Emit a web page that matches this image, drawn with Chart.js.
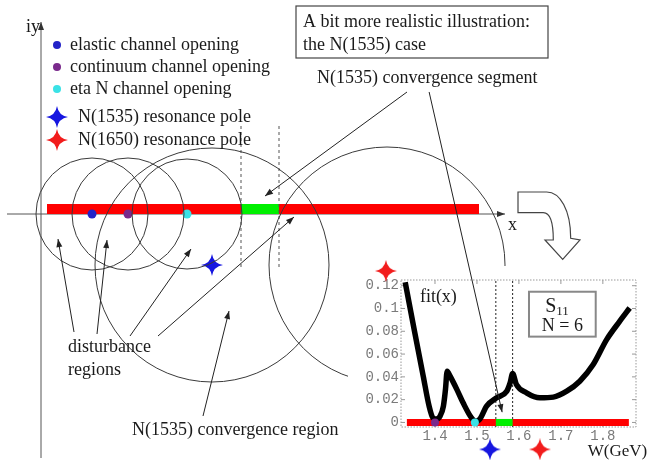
<!DOCTYPE html>
<html>
<head>
<meta charset="utf-8">
<script src="https://cdn.jsdelivr.net/npm/chart.js@4.4.1/dist/chart.umd.min.js"></script>
<style>
  body { margin: 0; background: #fff; }
  #wrap { position: relative; width: 650px; height: 464px; }
  canvas { position: absolute; left: 0; top: 0; }
</style>
</head>
<body>
<div id="wrap">
  <canvas id="plane" width="650" height="464"></canvas>
  <canvas id="inset" width="650" height="464"></canvas>
</div>
<script>
// complex plane sketch, units: 1 = 100px, origin where the axes cross
const openingNames = ['elastic channel opening', 'continuum channel opening', 'eta N channel opening'];
const openingX = [0.51, 0.87, 1.46];
const openingColors = ['#2323c8', '#7a2a8c', '#3ae2e6'];
const disturbanceRadius = [0.56, 0.56, 0.55];
const poleNames = ['N(1535) resonance pole', 'N(1650) resonance pole'];
const poleColors = ['#1616e0', '#f21c1c'];
const pole1535 = [1.71, -0.51];
const regionCircles = [[1.71, -0.51, 1.17], [3.46, -0.51, 1.18]]; // cx, cy, r
const cutRange = [0.06, 4.38];
const segmentRange = [2.00, 2.38];

// inset: fit(x) of S11, N = 6
const fitW = [1.329, 1.352, 1.372, 1.386, 1.395, 1.403, 1.412, 1.420, 1.425, 1.429, 1.436, 1.452, 1.467, 1.487, 1.497, 1.507,
              1.523, 1.547, 1.571, 1.579, 1.585, 1.594, 1.618, 1.650, 1.682, 1.714, 1.745, 1.777, 1.809, 1.840, 1.864];
const fitVal = [0.123, 0.0785, 0.0406, 0.0143, 0.004, 0.003, 0.0055, 0.0143, 0.029, 0.045, 0.0406, 0.029, 0.0172, 0.004, 0.001, 0.003,
                0.0143, 0.0216, 0.0274, 0.0347, 0.0429, 0.0333, 0.026, 0.0216, 0.0222, 0.0274, 0.0362, 0.0508, 0.0727, 0.0887, 0.1004];
const insetOpenW = [1.40, 1.495];
const insetOpenColors = ['#7a2a8c', '#3ae2e6'];
const insetCut = [1.333, 1.862];
const insetSegment = [1.545, 1.585];
const insetPoleW = [1.531, 1.65];
const insetXTicks = [1.4, 1.5, 1.6, 1.7, 1.8];
const insetYTicks = [0, 0.02, 0.04, 0.06, 0.08, 0.1, 0.12];
const insetYLabels = ['0', '0.02', '0.04', '0.06', '0.08', '0.1', '0.12'];

const SERIF = '"Liberation Serif", "Times New Roman", serif';
const INK = '#1a1a1a';

function starImage(color) {
  const c = document.createElement('canvas');
  c.width = 22; c.height = 22;
  const g = c.getContext('2d');
  const m = 11, k = 1.5;
  g.fillStyle = color;
  g.beginPath();
  g.moveTo(m, 0);
  g.quadraticCurveTo(m + k, m - k, 22, m);
  g.quadraticCurveTo(m + k, m + k, m, 22);
  g.quadraticCurveTo(m - k, m + k, 0, m);
  g.quadraticCurveTo(m - k, m - k, m, 0);
  g.fill();
  return c;
}
const blueStar = starImage(poleColors[0]);
const redStar = starImage(poleColors[1]);

function arrow(ctx, x1, y1, x2, y2) {
  const a = Math.atan2(y2 - y1, x2 - x1);
  ctx.beginPath();
  ctx.moveTo(x1, y1);
  ctx.lineTo(x2, y2);
  ctx.stroke();
  ctx.beginPath();
  ctx.moveTo(x2, y2);
  ctx.lineTo(x2 - 8 * Math.cos(a) + 3 * Math.sin(a), y2 - 8 * Math.sin(a) - 3 * Math.cos(a));
  ctx.lineTo(x2 - 8 * Math.cos(a) - 3 * Math.sin(a), y2 - 8 * Math.sin(a) + 3 * Math.cos(a));
  ctx.closePath();
  ctx.fill();
}

const S = (x, y) => ({x, y});

const planeDecor = {
  id: 'planeDecor',
  beforeDatasetsDraw(chart) {
    const {ctx, scales: {x, y}} = chart;
    const px = v => x.getPixelForValue(v), py = v => y.getPixelForValue(v);
    ctx.save();
    ctx.strokeStyle = '#555';
    ctx.fillStyle = '#333';
    ctx.lineWidth = 1;
    arrow(ctx, px(-0.34), py(0), px(4.64), py(0));
    arrow(ctx, px(0), py(-2.44), px(0), py(1.92));
    ctx.restore();
  },
  afterDatasetsDraw(chart) {
    const {ctx, scales: {x, y}} = chart;
    const px = v => x.getPixelForValue(v), py = v => y.getPixelForValue(v);
    const unit = px(1) - px(0);
    ctx.save();
    // circles
    ctx.strokeStyle = '#3a3a3a';
    ctx.lineWidth = 1;
    openingX.forEach((ox, i) => {
      ctx.beginPath();
      ctx.arc(px(ox), py(0), disturbanceRadius[i] * unit, 0, Math.PI * 2);
      ctx.stroke();
    });
    regionCircles.forEach(([cx, cy, r]) => {
      ctx.beginPath();
      ctx.arc(px(cx), py(cy), r * unit, 0, Math.PI * 2);
      ctx.stroke();
    });

    // pointer arrows
    ctx.strokeStyle = '#222';
    ctx.fillStyle = '#222';
    [[0.33, -1.18, 0.17, -0.25], [0.56, -1.20, 0.66, -0.26], [0.89, -1.22, 1.50, -0.35],
     [1.17, -1.22, 2.53, -0.03], [1.62, -2.02, 1.88, -0.97], [3.66, 1.22, 2.24, 0.18]]
      .forEach(([a, b, c, d]) => arrow(ctx, px(a), py(b), px(c), py(d)));

    // block arrow pointing to the inset
    const ax = px(4.77), ay = py(0.22);
    ctx.beginPath();
    ctx.moveTo(ax, ay);
    ctx.lineTo(ax + 28.7, ay);
    ctx.bezierCurveTo(ax + 42, ay, ax + 52.7, ay + 18, ax + 52.7, ay + 46.3);
    ctx.lineTo(ax + 62, ay + 48);
    ctx.lineTo(ax + 44.7, ay + 67.3);
    ctx.lineTo(ax + 27, ay + 48);
    ctx.lineTo(ax + 35.3, ay + 48);
    ctx.bezierCurveTo(ax + 35.3, ay + 30, ax + 32, ay + 20.7, ax + 25.3, ay + 20.7);
    ctx.lineTo(ax, ay + 20.7);
    ctx.closePath();
    ctx.fillStyle = '#fff';
    ctx.fill();
    ctx.strokeStyle = '#444';
    ctx.lineWidth = 1.2;
    ctx.stroke();

    // texts
    ctx.fillStyle = INK;
    ctx.font = '18px ' + SERIF;
    ctx.textBaseline = 'middle';
    ctx.textAlign = 'left';
    [['iy', -0.15, 1.87], ['x', 4.67, -0.11], ['N(1535) convergence segment', 2.76, 1.36],
     ['disturbance', 0.27, -1.33], ['regions', 0.27, -1.56], ['N(1535) convergence region', 0.91, -2.16],
     ['A bit more realistic illustration:', 2.62, 1.92], ['the N(1535) case', 2.62, 1.69]]
      .forEach(([t, a, b]) => ctx.fillText(t, px(a), py(b)));
    ctx.strokeStyle = '#444';
    ctx.lineWidth = 1.2;
    ctx.strokeRect(px(2.55), py(2.08), px(5.07) - px(2.55), py(1.56) - py(2.08));

    // legend
    const rows = [1.69, 1.47, 1.25, 0.97, 0.74];
    openingNames.forEach((n, i) => {
      ctx.fillStyle = openingColors[i];
      ctx.beginPath();
      ctx.arc(px(0.16), py(rows[i]), 4, 0, Math.PI * 2);
      ctx.fill();
      ctx.fillStyle = INK;
      ctx.fillText(n, px(0.29), py(rows[i]));
    });
    poleNames.forEach((n, i) => {
      const img = i === 0 ? blueStar : redStar;
      ctx.drawImage(img, px(0.16) - 11, py(rows[3 + i]) - 11);
      ctx.fillStyle = INK;
      ctx.fillText(n, px(0.37), py(rows[3 + i]));
    });
    ctx.restore();
  }
};

const plane = new Chart(document.getElementById('plane'), {
  type: 'scatter',
  data: {
    datasets: [
      { data: [S(cutRange[0], 0.1), S(cutRange[1], 0.1)], showLine: true, fill: 'origin',
        backgroundColor: '#ff0000', borderWidth: 0, pointRadius: 0, order: 6 },
      { data: [S(segmentRange[0], 0.1), S(segmentRange[1], 0.1)], showLine: true, fill: 'origin',
        backgroundColor: '#00f000', borderWidth: 0, pointRadius: 0, order: 5 },
      ...segmentRange.map(sx => ({ data: [S(sx, 0.88), S(sx, -0.56)], showLine: true, borderColor: '#555',
        borderWidth: 1, borderDash: [3, 3], pointRadius: 0, order: 4 })),
      { data: openingX.map(ox => S(ox, 0)), pointBackgroundColor: openingColors, pointRadius: 4.5,
        pointBorderWidth: 0, order: 1 },
      { data: [S(pole1535[0], pole1535[1])], pointStyle: blueStar, pointRadius: 11, order: 0 }
    ]
  },
  options: {
    responsive: false,
    animation: false,
    events: [],
    layout: { padding: 0, autoPadding: false },
    plugins: { legend: { display: false }, tooltip: { enabled: false } },
    scales: {
      x: { type: 'linear', min: -0.41, max: 6.09, display: false },
      y: { type: 'linear', min: -2.5, max: 2.14, display: false }
    }
  },
  plugins: [planeDecor]
});

const insetStarY = -0.0236;
const insetDecor = {
  id: 'insetDecor',
  beforeDraw(chart) {
    const {ctx, chartArea: a} = chart;
    ctx.save();
    ctx.fillStyle = '#fff';
    ctx.fillRect(a.left - 53, a.top - 14, chart.width - a.left + 53, chart.height - a.top + 14);
    ctx.restore();
  },
  beforeDatasetsDraw(chart) {
    const {ctx, chartArea: a, scales: {x, y}} = chart;
    ctx.save();
    ctx.strokeStyle = '#999';
    ctx.lineWidth = 1;
    ctx.setLineDash([1.5, 1.5]);
    ctx.strokeRect(a.left, a.top, a.right - a.left, a.bottom - a.top);
    ctx.setLineDash([]);
    insetXTicks.forEach(v => {
      const p = x.getPixelForValue(v);
      ctx.beginPath();
      ctx.moveTo(p, a.bottom); ctx.lineTo(p, a.bottom - 4);
      ctx.moveTo(p, a.top); ctx.lineTo(p, a.top + 4);
      ctx.stroke();
    });
    insetYTicks.forEach(v => {
      const p = y.getPixelForValue(v);
      ctx.beginPath();
      ctx.moveTo(a.left, p); ctx.lineTo(a.left + 4, p);
      ctx.moveTo(a.right, p); ctx.lineTo(a.right - 4, p);
      ctx.stroke();
    });
    ctx.restore();
  },
  afterDraw(chart) {
    const {ctx, scales: {x, y}} = chart;
    const px = v => x.getPixelForValue(v), py = v => y.getPixelForValue(v);
    ctx.save();
    // pole markers below the axis and beside the frame
    ctx.drawImage(blueStar, px(insetPoleW[0]) - 11, py(insetStarY) - 11);
    ctx.drawImage(redStar, px(insetPoleW[1]) - 11, py(insetStarY) - 11);
    ctx.drawImage(redStar, px(1.283) - 11, py(0.133) - 11);

    ctx.strokeStyle = '#222';
    ctx.fillStyle = '#222';
    ctx.lineWidth = 1;
    arrow(ctx, px(1.386), py(0.29), px(1.56), py(0.009));

    ctx.fillStyle = INK;
    ctx.textBaseline = 'middle';
    ctx.font = '18px ' + SERIF;
    ctx.textAlign = 'left';
    ctx.fillText('fit(x)', px(1.364), py(0.110));
    ctx.font = '17px ' + SERIF;
    ctx.fillText('W(GeV)', px(1.764), py(-0.0254));

    ctx.strokeStyle = '#888';
    ctx.lineWidth = 2;
    ctx.strokeRect(px(1.624), py(0.1147), px(1.783) - px(1.624), py(0.0753) - py(0.1147));
    const cx = px(1.7035);
    ctx.font = '20px ' + SERIF;
    ctx.textAlign = 'right';
    ctx.textBaseline = 'alphabetic';
    ctx.fillText('S', cx - 6, py(0.1033) + 7);
    ctx.font = '13px ' + SERIF;
    ctx.textAlign = 'left';
    ctx.fillText('11', cx - 6, py(0.1033) + 10);
    ctx.font = '18px ' + SERIF;
    ctx.textAlign = 'center';
    ctx.textBaseline = 'middle';
    ctx.fillText('N = 6', cx, py(0.084));
    ctx.restore();
  }
};

const inset = new Chart(document.getElementById('inset'), {
  type: 'scatter',
  data: {
    datasets: [
      { data: fitW.map((w, i) => S(w, fitVal[i])), showLine: true, borderColor: '#000', borderWidth: 5.5,
        pointRadius: 0, cubicInterpolationMode: 'monotone', order: 2 },
      { data: [S(insetCut[0], 0), S(insetCut[1], 0)], showLine: true, borderColor: '#ff0000', borderWidth: 7,
        borderCapStyle: 'butt', pointRadius: 0, order: 4 },
      { data: [S(insetSegment[0], 0), S(insetSegment[1], 0)], showLine: true, borderColor: '#00f000', borderWidth: 7,
        borderCapStyle: 'butt', pointRadius: 0, order: 3 },
      ...insetSegment.map(w => ({ data: [S(w, -0.004), S(w, 0.125)], showLine: true, borderColor: '#222',
        borderWidth: 1, borderDash: [2, 2], pointRadius: 0, order: 5 })),
      { data: insetOpenW.map(w => S(w, 0)), pointBackgroundColor: insetOpenColors, pointRadius: 4,
        pointBorderWidth: 0, order: 1 }
    ]
  },
  options: {
    responsive: false,
    animation: false,
    events: [],
    layout: { padding: { left: 351, right: 14, top: 280, bottom: 17 }, autoPadding: false },
    plugins: { legend: { display: false }, tooltip: { enabled: false } },
    scales: {
      x: {
        type: 'linear', min: 1.319, max: 1.879,
        afterBuildTicks: s => { s.ticks = insetXTicks.map(v => ({value: v})); },
        afterFit: s => { s.height = 20; },
        grid: { display: false, drawTicks: false }, border: { display: false },
        ticks: { padding: 1, color: '#7a7a7a', font: { family: '"Liberation Mono", monospace', size: 14 },
                 callback: (v, i) => insetXTicks[i].toFixed(1) }
      },
      y: {
        type: 'linear', min: -0.004, max: 0.125,
        afterBuildTicks: s => { s.ticks = insetYTicks.map(v => ({value: v})); },
        afterFit: s => { s.width = 50; },
        grid: { display: false, drawTicks: false }, border: { display: false },
        ticks: { padding: 2, color: '#7a7a7a', font: { family: '"Liberation Mono", monospace', size: 14 },
                 callback: (v, i) => insetYLabels[i] }
      }
    }
  },
  plugins: [insetDecor]
});
</script>
</body>
</html>
